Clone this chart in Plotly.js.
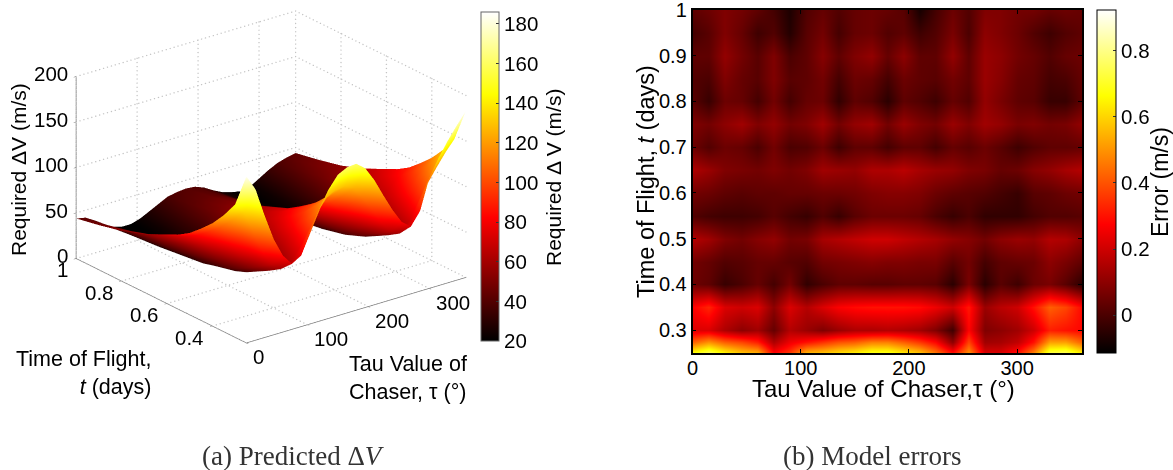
<!DOCTYPE html>
<html><head><meta charset="utf-8">
<script src="https://cdn.plot.ly/plotly-3.0.1.min.js"></script>
<style>html,body{margin:0;padding:0;background:#fff}#c{width:1173px;height:470px}</style>
</head><body><div id="c"></div>
<script>
const W=1173,H=470;
const tauStep15=[0,15,30,45,60,75,90,105,120,135,150,165,180,195,210,225,240,255,270,285,300,315,330,345,360];
const surfT=[0.25,0.3,0.35,0.4,0.45,0.5,0.55,0.6,0.7,0.8,0.9,1];
const surfZ=[
[183,166,134,105,84,72,78,100,122,142,155,160,161,153,137,117,98,82,74,88,121,140,156,170,183],
[146,135,110,85,68,60,63,76,92,110,123,129,130,125,112,95,78,65,60,70,88,105,120,134,146],
[128,120,100,78,60,52,54,66,80,96,108,114,115,110,99,84,69,57,52,61,77,92,106,118,128],
[113,106,88,68,52,45,47,57,70,84,95,101,102,97,87,74,60,50,45,53,68,82,94,105,113],
[101,95,79,60,45,38,40,49,62,75,85,91,92,88,78,65,52,42,38,46,60,73,84,94,101],
[90,85,70,53,39,33,34,43,55,67,76,82,83,79,70,58,46,37,33,40,53,65,75,84,90],
[82,77,64,48,36,30,31,39,50,61,69,74,75,71,63,53,42,34,30,36,48,59,69,77,82],
[76,71,59,44,32,27,28,36,46,56,64,68,69,66,58,48,38,31,27,33,44,55,64,71,76],
[64,60,50,38,29,24,25,31,39,47,54,58,59,56,50,41,33,27,24,29,38,47,55,60,64],
[55,52,44,34,26,22,23,28,34,41,47,50,51,49,44,36,29,24,22,26,34,41,48,52,55],
[49,46,39,31,24,21,21,25,31,37,42,44,45,43,39,33,27,23,21,24,30,37,43,47,49],
[44,42,36,28,23,20,20,23,28,33,38,40,41,40,36,30,25,22,20,22,28,34,39,42,44]];
const errT=[0.25,0.275,0.3,0.35,0.4,0.45,0.5,0.55,0.6,0.65,0.7,0.75,0.8,0.85,0.9,0.95,1];
const errZ=[
[.68,.76,.66,.58,.55,.28,.36,.56,.58,.62,.65,.7,.7,.64,.58,.46,.3,.5,.22,.22,.3,.48,.74,.76,.64],
[.42,.5,.42,.38,.32,.15,.25,.3,.35,.4,.42,.47,.47,.42,.36,.28,.1,.38,.13,.14,.18,.3,.52,.52,.42],
[.22,.22,.15,.1,.13,.04,.16,.12,.08,.12,.15,.15,.16,.15,.13,.08,-.02,.28,.08,.1,.13,.2,.32,.3,.28],
[.27,.33,.22,.2,.22,.1,.22,.16,.22,.27,.29,.3,.3,.3,.29,.25,.2,.31,.12,.17,.2,.3,.42,.38,.28],
[.05,.03,-.03,0,.04,-.01,.06,-.04,0,.03,.03,.02,.02,.03,.03,.02,-.05,.07,-.05,.02,-.02,.05,.07,.02,-.05],
[.06,.04,.01,.02,.04,.04,.02,.01,.06,.07,.08,.09,.08,.08,.07,.07,.02,.06,-.01,.03,.04,.05,.1,.07,.03],
[.16,.13,.08,.06,.09,.11,.06,.07,.14,.16,.18,.2,.2,.18,.16,.14,.11,.09,.06,.1,.12,.11,.16,.15,.1],
[.01,-.01,-.02,-.02,-.01,.02,-.01,-.03,.01,-.03,.02,.05,.05,.05,.04,0,-.03,0,-.04,-.04,-.04,-.01,.01,.01,.02],
[.06,.05,.03,.02,.03,.03,.04,.04,.05,.05,.06,.08,.09,.09,.08,.05,.03,.02,.01,-.01,-.03,.02,.03,.05,.06],
[.15,.12,.08,.07,.06,.08,.06,.08,.13,.12,.11,.15,.15,.17,.14,.12,.11,.08,.07,.04,.05,.09,.11,.14,.16],
[.05,.01,.05,.04,0,.06,0,.01,.05,-.02,.03,.03,-.01,.03,.03,-.01,.04,.02,.05,.02,-.02,.01,.03,.03,.04],
[.08,.06,.1,.13,.08,.11,.06,.08,.13,.06,.11,.13,.06,.12,.08,.06,.12,.08,.13,.11,.07,.08,.06,.07,.11],
[.02,-.03,.05,.04,-.01,.06,-.01,.04,.05,-.04,.03,.01,-.05,.03,.01,-.02,.04,.01,.11,.07,.03,.02,-.03,-.03,.03],
[.01,0,.08,.04,.02,.08,.02,.03,.06,-.01,.05,.04,-.01,.05,.03,.02,.06,.03,.12,.09,.04,.03,-.01,0,.04],
[.03,.03,.11,.06,.02,.08,0,.03,.09,.03,.08,.11,.04,.1,.03,.03,.11,.03,.12,.1,.06,.04,.01,.04,.05],
[-.01,.02,.08,.04,-.02,.01,-.06,.02,.06,-.01,.04,.05,.01,.03,-.02,.01,.07,0,.1,.08,.05,.01,-.02,.01,.03],
[.03,.05,.08,.06,.03,-.01,-.07,.01,.04,.01,.04,.05,.04,.02,-.08,-.01,.05,.01,.08,.08,.06,.06,.04,.05,.04]];
const tauTicks=[0,100,200,300];
const timeTicks3d=[0.4,0.6,0.8,1];
const zTicks=[0,50,100,150,200];
const cbTicks1=[20,40,60,80,100,120,140,160,180];
const errTauTicks=[0,100,200,300];
const errTimeTicks=[0.3,0.4,0.5,0.6,0.7,0.8,0.9,1];
const cbTicks2=[0,0.2,0.4,0.6,0.8];
const hot=[[0,'#000000'],[0.375,'#ff0000'],[0.75,'#ffff00'],[1,'#ffffff']];
const F='"Liberation Sans",Arial,sans-serif';
const px=x=>x/W, py=y=>1-y/H;

// dotted grid: small points stepped along each wall line
const gx=[],gy=[],gz=[];
function seg(a,b,n){for(let i=0;i<=n;i++){const f=i/n;gx.push(a[0]+(b[0]-a[0])*f);gy.push(a[1]+(b[1]-a[1])*f);gz.push(a[2]+(b[2]-a[2])*f);}}
tauTicks.forEach(v=>{seg([v,.25,0],[v,1,0],48);seg([v,1,0],[v,1,200],44);});
timeTicks3d.forEach(v=>{seg([0,v,0],[360,v,0],56);seg([360,v,0],[360,v,200],44);});
zTicks.forEach(v=>{seg([0,1,v],[360,1,v],56);seg([360,1,v],[360,.25,v],48);});

const ax3=(vals,rng)=>({range:rng,tickvals:vals,tickmode:'array',showgrid:false,zeroline:false,showticklabels:false,
  showbackground:false,showline:true,linecolor:'#777',linewidth:1.5,ticks:'outside',ticklen:3,tickcolor:'#777',
  title:{text:''},showspikes:false});

const traces=[
 {type:'scatter3d',mode:'markers',x:gx,y:gy,z:gz,marker:{color:'#c4c4c4',size:0.8,line:{width:0}},hoverinfo:'skip',showlegend:false,scene:'scene'},
 {type:'surface',x:tauStep15,y:surfT,z:surfZ,colorscale:hot,cmin:20,cmax:186,scene:'scene',
  lighting:{ambient:1,diffuse:0,specular:0,roughness:1,fresnel:0},
  contours:{x:{highlight:false},y:{highlight:false},z:{highlight:false}},
  colorbar:{x:px(481),xanchor:'left',y:py(176.5),yanchor:'middle',lenmode:'fraction',len:329/H,thickness:18,thicknessmode:'pixels',xpad:0,ypad:0,
    tickvals:cbTicks1,ticks:'inside',ticklen:3,tickcolor:'#333',outlinecolor:'#666',outlinewidth:1,tickfont:{family:F,size:20.5,color:'#000'}}},
 {type:'heatmap',x:tauStep15,y:errT,z:errZ,colorscale:hot,zmin:-0.115,zmax:0.924,zsmooth:'best',xaxis:'x',yaxis:'y',
  colorbar:{x:px(1097),xanchor:'left',y:py(181.5),yanchor:'middle',lenmode:'fraction',len:343/H,thickness:19,thicknessmode:'pixels',xpad:0,ypad:0,
    tickvals:cbTicks2,ticks:'inside',ticklen:3,tickcolor:'#333',outlinecolor:'#000',outlinewidth:1,tickfont:{family:F,size:20.5,color:'#000'}}}
];
const ann=(x,y,text,size,o)=>Object.assign({xref:'paper',yref:'paper',x:px(x),y:py(y),text,showarrow:false,
  font:{family:F,size,color:'#000'},xanchor:'center',yanchor:'middle'},o||{});
const SERIF='"Liberation Serif",serif';
const tickAnn=(x,y,z,text,o)=>Object.assign({x,y,z,text,showarrow:false,font:{family:F,size:20.5,color:'#000'}},o);
const sceneAnn=[
 ...zTicks.map(v=>tickAnn(0,1,v,String(v),{xanchor:'right',yanchor:'middle',xshift:-6,yshift:3})),
 ...timeTicks3d.map(v=>tickAnn(0,v,0,String(v),{xanchor:'right',yanchor:'middle',xshift:-6,yshift:-11})),
 ...tauTicks.map(v=>tickAnn(v,.25,0,String(v),{xanchor:'left',yanchor:'middle',xshift:5,yshift:-14}))
];
const layout={width:W,height:H,margin:{l:0,r:0,t:0,b:0},paper_bgcolor:'#fff',plot_bgcolor:'#fff',showlegend:false,
 scene:{domain:{x:[px(31),px(511)],y:[py(347),py(7)]},aspectmode:'manual',aspectratio:{x:1.634,y:1.634,z:1.16},
  camera:{projection:{type:'orthographic'},up:{x:0,y:0,z:1},center:{x:0,y:0,z:0},eye:{x:-0.706,y:-0.91,z:0.48}},
  xaxis:ax3(tauTicks,[0,360]),yaxis:ax3(timeTicks3d,[0.25,1]),zaxis:ax3(zTicks,[0,200]),annotations:sceneAnn},
 xaxis:{domain:[px(692.5),px(1082)],range:[0,360],tickvals:errTauTicks,ticks:'inside',ticklen:4,tickcolor:'#000',showline:true,linecolor:'#000',linewidth:1.5,mirror:'ticks',showgrid:false,zeroline:false,ticklabelstandoff:-4,ticklabeloverflow:'allow',tickfont:{family:F,size:20,color:'#000'}},
 yaxis:{domain:[py(353),py(10)],range:[0.25,1],tickvals:errTimeTicks,ticktext:['0.3','0.4','0.5','0.6','0.7','0.8','0.9','1'],ticks:'inside',ticklen:4,tickcolor:'#000',showline:true,linecolor:'#000',linewidth:1.5,mirror:'ticks',showgrid:false,zeroline:false,ticklabeloverflow:'allow',tickfont:{family:F,size:20,color:'#000'}},
 annotations:[
  ann(19,170,'Required ΔV (m/s)',21,{textangle:-90}),
  ann(553,178,'Required Δ V (m/s)',21,{textangle:-90}),
  ann(153,373,'Time of Flight,<br><i>t</i> (days)',21.5,{xanchor:'right',align:'right'}),
  ann(347,378,'Tau Value of<br>Chaser, τ (°)',21.5,{xanchor:'left',align:'left'}),
  ann(646,182,'Time of Flight, <i>t</i> (days)',23.5,{textangle:-90}),
  ann(883,388,'Tau Value of Chaser,τ (°)',24),
  ann(1160,182,'Error (m/s)',23,{textangle:-90}),
  ann(293,456,'(a) Predicted Δ<i>V</i>',27,{font:{family:SERIF,size:27,color:'#333'}}),
  ann(872,456,'(b) Model errors',27,{font:{family:SERIF,size:27,color:'#333'}})
 ]};
Plotly.newPlot('c',traces,layout,{displayModeBar:false});
</script></body></html>
